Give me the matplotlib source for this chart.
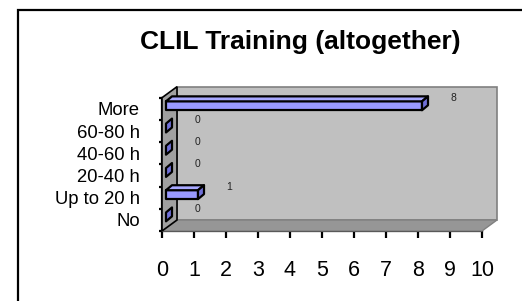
import matplotlib
matplotlib.use("Agg")
import numpy as np
import matplotlib.pyplot as plt
from matplotlib.patches import Polygon, Rectangle

plt.rcParams['font.family'] = ['Liberation Sans', 'DejaVu Sans']

# data
categories = ['No', 'Up to 20 h', '20-40 h', '40-60 h', '60-80 h', 'More']
counts = [0, 1, 0, 0, 0, 8]
x_ticks = list(range(0, 11))

W, H = 522, 301
fig = plt.figure(figsize=(W / 100, H / 100), dpi=100)
fig.patch.set_facecolor('white')

# outer chart frame
fig.patches.append(Rectangle((18 / W, -0.1), 1.2, (H - 10) / H + 0.1,
                             transform=fig.transFigure, fill=False,
                             edgecolor='black', linewidth=1.6))

ax = fig.add_axes([162 / W, (H - 231) / H, 320 / W, 133.3 / H])
ax.set_xlim(0, 10)
ax.set_ylim(-0.5, len(categories) - 0.5)
ax.patch.set_visible(False)
ax.spines['top'].set_visible(False)
ax.spines['right'].set_visible(False)
for s in ('left', 'bottom'):
    ax.spines[s].set_linewidth(1.6)
    ax.spines[s].set_zorder(6)

ax.set_xticks(x_ticks)
ax.set_xticklabels([str(t) for t in x_ticks], fontsize=15.5)
ax.tick_params(axis='x', direction='out', length=5, width=1.6, pad=16)

n = len(categories)
ax.set_yticks(np.arange(n + 1) - 0.5)
ax.set_yticklabels([])
ax.tick_params(axis='y', which='major', direction='out', length=2.5, width=1.6)
ax.set_yticks(np.arange(n), minor=True)
ax.set_yticklabels(categories, minor=True, fontsize=13.3)
ax.tick_params(axis='y', which='minor', length=0, pad=16)

to_fig = fig.transFigure.inverted()


def P(x, y, dx=0.0, dy=0.0):
    d = ax.transData.transform((x, y)) + np.array([dx, dy])
    return to_fig.transform(d)


def poly(pts, **kw):
    p = Polygon(pts, closed=True, transform=fig.transFigure, **kw)
    fig.patches.append(p)


DX, DY = 15, 11          # wall depth in pixels
y0, y1 = -0.5, n - 0.5

# back wall
poly([P(0, y0, DX, DY), P(10, y0, DX, DY), P(10, y1, DX, DY), P(0, y1, DX, DY)],
     facecolor='#c0c0c0', edgecolor='#808080', linewidth=1.2, zorder=1)
# floor
poly([P(0, y0), P(10, y0), P(10, y0, DX, DY), P(0, y0, DX, DY)],
     facecolor='#969696', edgecolor='#808080', linewidth=1.0, zorder=2)
# left wall
poly([P(0, y0), P(0, y1), P(0, y1, DX, DY), P(0, y0, DX, DY)],
     facecolor='#a0a0a0', edgecolor='black', linewidth=1.2, zorder=3)

# bars
fx, fy = 4, 3       # offset of bar front face
bx, by = 6, 5       # bar depth
h = 0.2
for i, v in enumerate(counts):
    lo, hi = i - h, i + h
    ekw = dict(edgecolor='black', linewidth=1.6, zorder=4, joinstyle='round')
    if v > 0:
        poly([P(0, lo, fx, fy), P(v, lo, fx, fy), P(v, hi, fx, fy), P(0, hi, fx, fy)],
             facecolor='#9999ff', **ekw)
        poly([P(0, hi, fx, fy), P(v, hi, fx, fy), P(v, hi, fx + bx, fy + by), P(0, hi, fx + bx, fy + by)],
             facecolor='#a8a8ff', **ekw)
    poly([P(v, lo, fx, fy), P(v, hi, fx, fy), P(v, hi, fx + bx, fy + by), P(v, lo, fx + bx, fy + by)],
         facecolor='#7070d8', **ekw)
    tx, ty = ax.transData.transform((v + 1.1, i)) + np.array([0, 11])
    fig.text(*to_fig.transform((tx, ty)), str(v), fontsize=7.5, ha='center',
             va='center', color='#222222', zorder=7)

fig.text(300 / W, 1 - 42 / H, 'CLIL Training (altogether)', fontsize=19,
         fontweight='bold', ha='center', va='center')

fig.savefig('out.png', dpi=100)
